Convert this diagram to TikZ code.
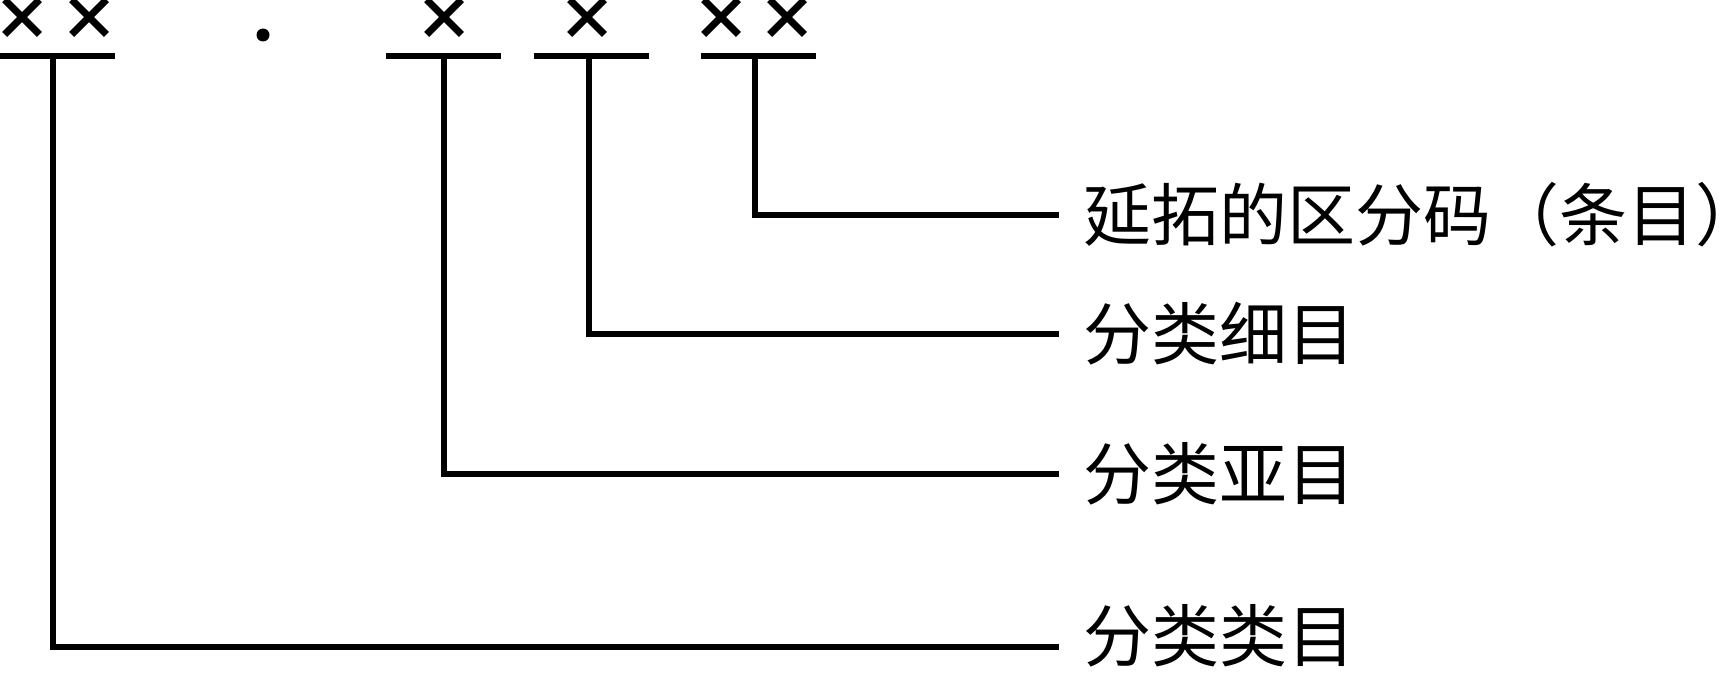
\documentclass[tikz,border=0pt]{standalone}
\usepackage{fontspec}
\newfontfamily\cjk{Noto Sans CJK SC}
\begin{document}
\begin{tikzpicture}[x=0.5pt,y=-0.5pt,
  every node/.style={inner sep=0pt},
  bar/.style={line width=3pt},
  conn/.style={line width=2.6pt},
  cross/.style={font=\fontsize{30pt}{30pt}\selectfont\cjk\bfseries},
  lbl/.style={anchor=west,inner xsep=12pt,font=\fontsize{34pt}{40pt}\selectfont\cjk}]
\useasboundingbox (0,0) rectangle (1736,674);
% crosses
\node[cross] (x1) at (22,19) {×};
\node[cross] (x2) at (90,19) {×};
\node[cross] (x3) at (444,19) {×};
\node[cross] (x4) at (587,19) {×};
\node[cross] (x5) at (721,19) {×};
\node[cross] (x6) at (787,19) {×};
% separator dot
\fill (263,35) circle (6.5);
% bars
\draw[bar] (0,56) -- (115,56);
\draw[bar] (386,56) -- (501,56);
\draw[bar] (534,56) -- (649,56);
\draw[bar] (701,56) -- (816,56);
% bar stems
\coordinate (b1) at (53,56);
\coordinate (b2) at (444,56);
\coordinate (b3) at (589,56);
\coordinate (b4) at (755,56);
% labels
\node[lbl] (l1) at (1059,215) {延拓的区分码（条目）};
\node[lbl] (l2) at (1059,334) {分类细目};
\node[lbl] (l3) at (1059,474) {分类亚目};
\node[lbl] (l4) at (1059,636) {分类类目};
\coordinate (e4) at (1059,647);
% connectors
\draw[conn] (b4) |- (l1.west);
\draw[conn] (b3) |- (l2.west);
\draw[conn] (b2) |- (l3.west);
\draw[conn] (b1) |- (e4);
\end{tikzpicture}
\end{document}
